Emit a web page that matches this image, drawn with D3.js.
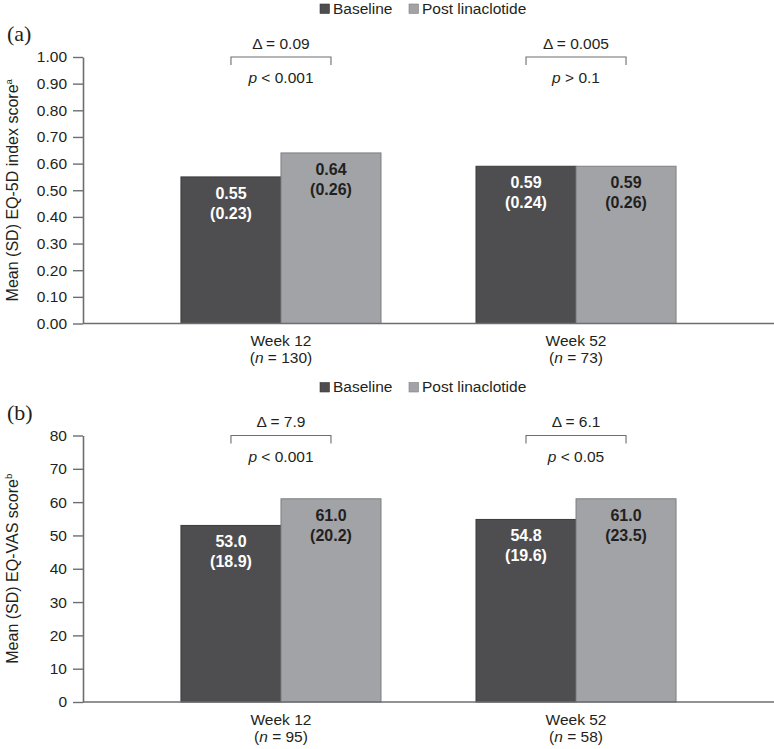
<!DOCTYPE html>
<html><head><meta charset="utf-8">
<script src="https://cdn.jsdelivr.net/npm/d3@7"></script>
<style>
body{margin:0;background:#fff;}
text{font-family:"Liberation Sans",Arial,Helvetica,sans-serif;}
</style></head>
<body><svg id="chart" width="774" height="749"></svg>
<script>
const categories = ["Week 12", "Week 52"];
const seriesNames = ["Baseline", "Post linaclotide"];
// Panel (a) EQ-5D index
const nA = ["130", "73"];
const eqBaseline = [0.55, 0.59];
const eqBaselineSD = [0.23, 0.24];
const eqPost = [0.64, 0.59];
const eqPostSD = [0.26, 0.26];
const eqDelta = ["0.09", "0.005"];
const eqP = ["< 0.001", "> 0.1"];
const eqTicks = [0, 0.1, 0.2, 0.3, 0.4, 0.5, 0.6, 0.7, 0.8, 0.9, 1.0];
// Panel (b) EQ-VAS
const nB = ["95", "58"];
const vasBaseline = [53.0, 54.8];
const vasBaselineSD = [18.9, 19.6];
const vasPost = [61.0, 61.0];
const vasPostSD = [20.2, 23.5];
const vasDelta = ["7.9", "6.1"];
const vasP = ["< 0.001", "< 0.05"];
const vasTicks = [0, 10, 20, 30, 40, 50, 60, 70, 80];

const colors = ["#4e4e50", "#a1a3a6"];
const strokes = ["#3a3a3c", "#7d7f82"];
const textCol = "#231f20";
const axisCol = "#6d6e71";

const svg = d3.select("#chart");
const left = 83, right = 774;

function panel(cfg) {
  const g = svg.append("g").attr("transform", `translate(0,${cfg.dy})`);
  const y0 = 323.5, y1 = 57;
  const y = d3.scaleLinear().domain([0, cfg.max]).range([y0, y1]);
  const x = d3.scaleBand().domain(categories).range([left, right]).paddingInner(0.322).paddingOuter(0.332);
  const xs = d3.scaleBand().domain([0, 1]).range([0, x.bandwidth()]);

  // legend
  const leg = g.append("g");
  const legX = [320, 409];
  seriesNames.forEach((s, i) => {
    leg.append("rect").attr("x", legX[i]).attr("y", 4).attr("width", 9.5).attr("height", 9.5)
      .attr("fill", colors[i]).attr("stroke", strokes[i]).attr("stroke-width", 0.6);
    leg.append("text").attr("x", legX[i] + 13).attr("y", 13.5).attr("font-size", 15.5)
      .attr("fill", textCol).text(s);
  });

  // panel letter
  g.append("text").attr("x", 7).attr("y", cfg.letterY).attr("font-size", 22)
    .style("font-family", "'Liberation Serif','Times New Roman',serif").attr("fill", textCol).text(cfg.letter);

  // y axis
  const ax = g.append("g").attr("transform", `translate(${left},0)`)
    .call(d3.axisLeft(y).tickValues(cfg.ticks).tickFormat(cfg.tickFmt).tickSize(10).tickSizeOuter(0).tickPadding(6));
  ax.select(".domain").attr("stroke", axisCol).attr("stroke-width", 1.6);
  ax.selectAll(".tick line").attr("stroke", axisCol).attr("stroke-width", 1.4);
  ax.selectAll(".tick text").attr("font-size", 15.5).attr("fill", textCol)
    .style("font-family", "'Liberation Sans',Arial,sans-serif");

  // y title
  const t = g.append("text").attr("transform", `translate(18,${(y0 + y1) / 2}) rotate(-90)`)
    .attr("text-anchor", "middle").attr("font-size", 16).attr("fill", textCol);
  t.append("tspan").text(cfg.title);
  t.append("tspan").attr("font-size", 9.5).attr("dy", -6).text(cfg.sup);

  // bars
  const data = categories.map((c, i) => ({
    c, vals: [cfg.base[i], cfg.post[i]], sds: [cfg.baseSD[i], cfg.postSD[i]],
    delta: cfg.delta[i], p: cfg.p[i], n: cfg.n[i]
  }));
  const grp = g.selectAll(".grp").data(data).join("g").attr("transform", d => `translate(${x(d.c)},0)`);
  grp.selectAll("rect").data(d => d.vals.map((v, j) => ({ v, j, sd: d.sds[j] }))).join("rect")
    .attr("x", d => xs(d.j)).attr("y", d => y(d.v)).attr("width", xs.bandwidth())
    .attr("height", d => y0 - y(d.v)).attr("fill", d => colors[d.j])
    .attr("stroke", d => strokes[d.j]).attr("stroke-width", 1);
  grp.selectAll(".lab").data(d => d.vals.map((v, j) => ({ v, j, sd: d.sds[j] }))).join("text")
    .attr("text-anchor", "middle").attr("font-size", 16).attr("font-weight", "bold")
    .attr("fill", d => d.j === 0 ? "#ffffff" : textCol)
    .each(function (d) {
      const el = d3.select(this);
      const cx = xs(d.j) + xs.bandwidth() / 2;
      el.append("tspan").attr("x", cx).attr("y", y(d.v) + 22).text(cfg.valFmt(d.v));
      el.append("tspan").attr("x", cx).attr("y", y(d.v) + 42).text("(" + cfg.valFmt(d.sd) + ")");
    });

  // x axis line
  g.append("line").attr("x1", left).attr("x2", right).attr("y1", y0).attr("y2", y0)
    .attr("stroke", axisCol).attr("stroke-width", 1.6);

  // x labels
  grp.append("text").attr("x", x.bandwidth() / 2).attr("y", 346).attr("text-anchor", "middle")
    .attr("font-size", 15.5).attr("fill", textCol).text(d => d.c);
  const nl = grp.append("text").attr("x", x.bandwidth() / 2).attr("y", 363).attr("text-anchor", "middle")
    .attr("font-size", 15.5).attr("fill", textCol);
  nl.append("tspan").text("(");
  nl.append("tspan").attr("font-style", "italic").text("n");
  nl.append("tspan").text(d => " = " + d.n + ")");

  // brackets
  const bx0 = xs(0) + xs.bandwidth() / 2, bx1 = xs(1) + xs.bandwidth() / 2;
  grp.append("path").attr("d", `M${bx0},65V57H${bx1}V65`).attr("fill", "none")
    .attr("stroke", axisCol).attr("stroke-width", 1.1);
  grp.append("text").attr("x", (bx0 + bx1) / 2).attr("y", 48.5).attr("text-anchor", "middle")
    .attr("font-size", 15.5).attr("fill", textCol).text(d => "\u0394 = " + d.delta);
  const pt = grp.append("text").attr("x", (bx0 + bx1) / 2).attr("y", 83).attr("text-anchor", "middle")
    .attr("font-size", 15.5).attr("fill", textCol);
  pt.append("tspan").attr("font-style", "italic").text("p");
  pt.append("tspan").text(d => " " + d.p.replace(" ", "  "));
}

panel({
  dy: 0, letter: "(a)", letterY: 41, max: 1.0, ticks: eqTicks, tickFmt: d3.format(".2f"),
  title: "Mean (SD) EQ-5D index score", sup: "a", base: eqBaseline, post: eqPost,
  baseSD: eqBaselineSD, postSD: eqPostSD, delta: eqDelta, p: eqP, n: nA, valFmt: d3.format(".2f")
});
panel({
  dy: 378.5, letter: "(b)", letterY: 41, max: 80, ticks: vasTicks, tickFmt: d3.format("d"),
  title: "Mean (SD) EQ-VAS score", sup: "b", base: vasBaseline, post: vasPost,
  baseSD: vasBaselineSD, postSD: vasPostSD, delta: vasDelta, p: vasP, n: nB, valFmt: d3.format(".1f")
});
</script></body></html>
